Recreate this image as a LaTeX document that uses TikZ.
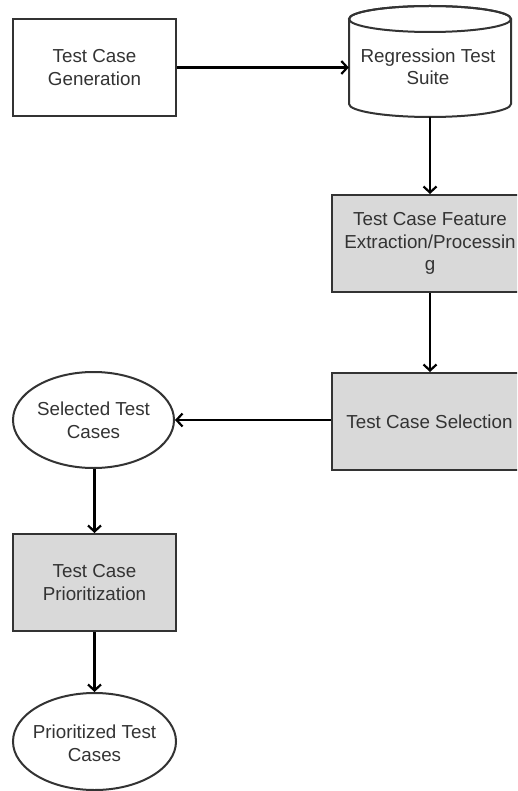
\documentclass[tikz,border=0pt]{standalone}
\usepackage{fontspec}
\setmainfont{Liberation Sans}
\usetikzlibrary{arrows.meta,shapes.geometric}
\definecolor{edge}{HTML}{333333}
\definecolor{ink}{HTML}{333333}
\definecolor{shade}{HTML}{D9D9D9}
\begin{document}
\begin{tikzpicture}[x=1pt,y=-1pt,
  every node/.style={font=\fontsize{18.8}{22.5}\selectfont, text=ink, align=center, inner sep=0pt},
  procbox/.style={draw=edge, line width=2pt, rectangle, minimum width=#1, minimum height=97pt},
  procbox/.default=163pt,
  grey/.style={fill=shade},
  oval/.style={draw=edge, line width=2pt, ellipse, minimum width=161pt, minimum height=96pt},
  flow/.style={draw=black, line width=2.2pt, -{Straight Barb[length=6pt, width=13pt, line width=2.2pt]}}
]
\useasboundingbox (0,0) rectangle (517,791);
\clip (0,0) rectangle (517,791);
\fill[white] (0,0) rectangle (517,791);

% test case generation
\node[procbox] (gen) at (94.5,67.5) {Test Case\\Generation};

% regression test suite (cylinder)
\filldraw[draw=edge, fill=white, line width=2pt]
  (349,19) -- (349,104) arc[start angle=180, end angle=0, x radius=81, y radius=13]
  -- (511,19) arc[start angle=0, end angle=-180, x radius=81, y radius=13] -- cycle;
\draw[edge, line width=2pt] (430,19) ellipse[x radius=81, y radius=13];
\node[minimum width=162pt, minimum height=111pt] (suite) at (430,61.5) {};
\node at (428,67) {Regression Test\\Suite};

% processing steps
\node[procbox=196pt, grey] (feat) at (430,243.5) {Test Case Feature\\Extraction/Processin\\g};
\node[procbox=196pt, grey] (sel) at (430,421.5) {};
\node at (429.5,421.5) {Test Case Selection};

\node[oval] (chosen) at (93.5,420) {};
\node at (93.5,420.5) {Selected Test\\Cases};
\node[procbox, grey] (prio) at (94.5,582.5) {Test Case\\Prioritization};
\node[oval, minimum width=163pt, minimum height=97pt] (ranked) at (94.5,741.5) {};
\node at (94.5,743.5) {Prioritized Test\\Cases};

% connectors
\draw[flow] (gen.east) -- (gen.east -| suite.west);
\draw[flow] (suite.south -| feat.north) -- (feat.north);
\draw[flow] (feat.south) -- (sel.north);
\draw[flow] (sel.west |- chosen.east) -- (chosen.east);
\draw[flow] (chosen.south -| prio.north) -- (prio.north);
\draw[flow] (prio.south) -- (ranked.north);
\end{tikzpicture}
\end{document}
